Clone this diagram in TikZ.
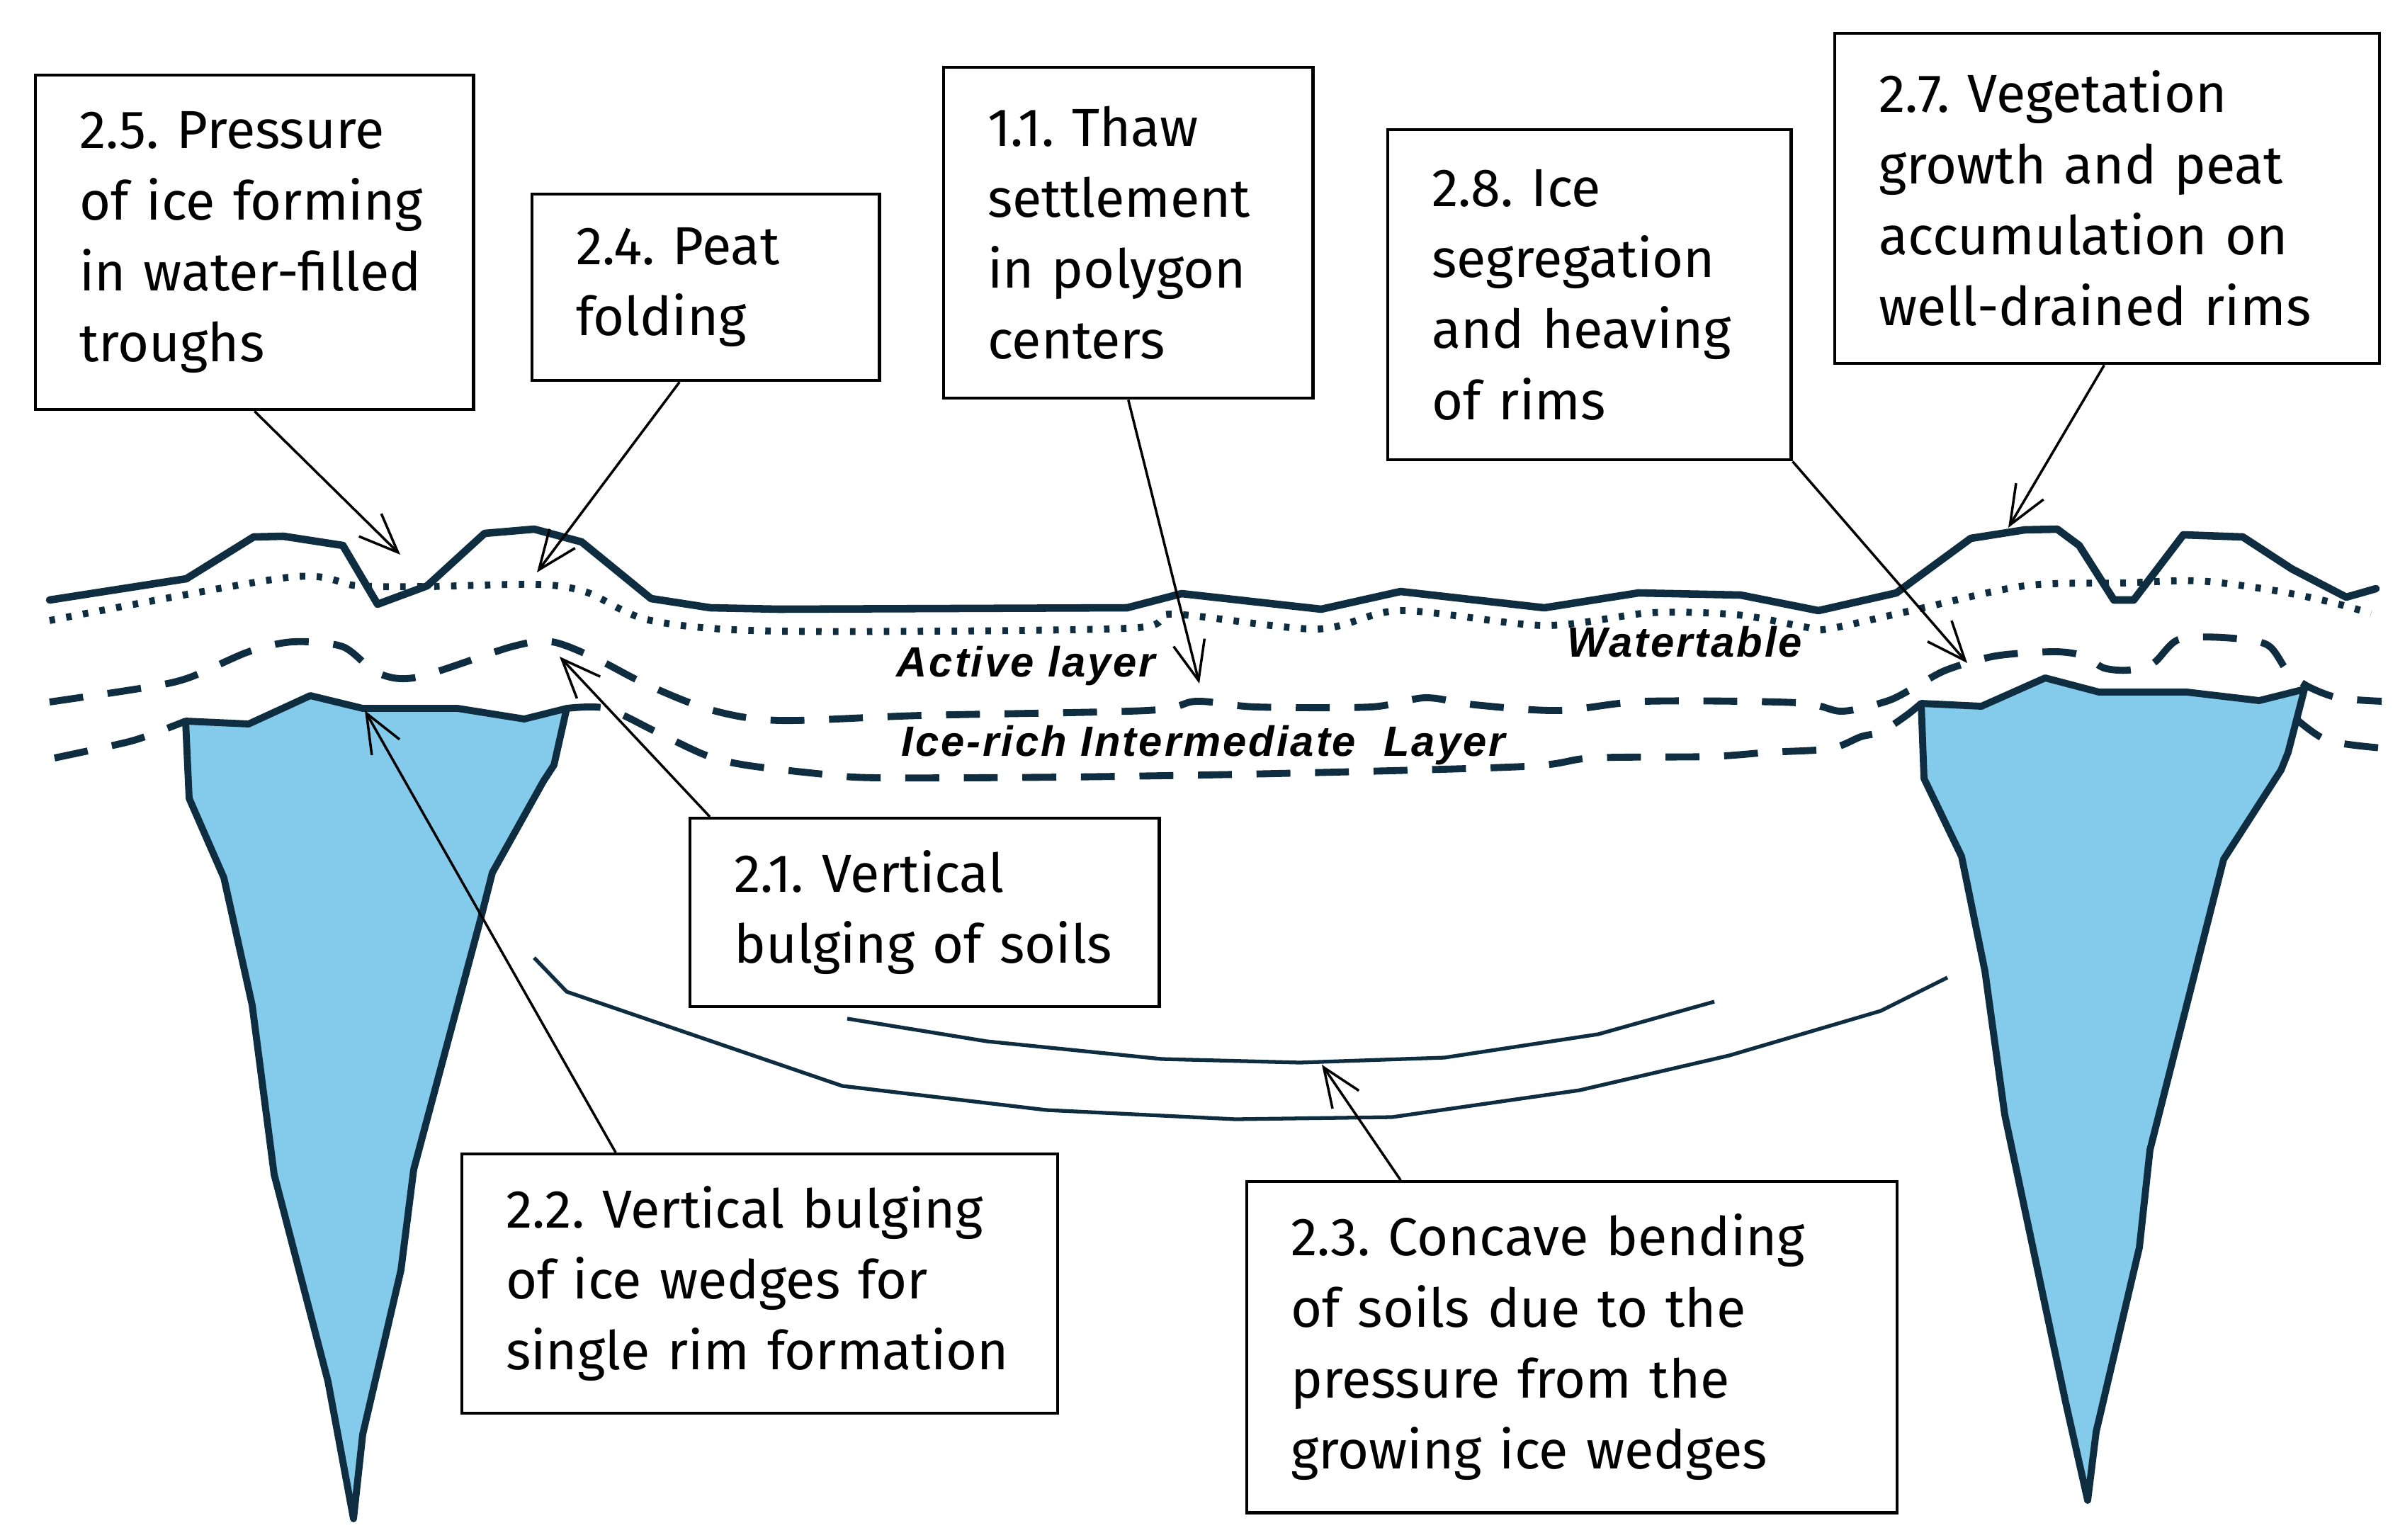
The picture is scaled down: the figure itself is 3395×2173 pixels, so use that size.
\documentclass[tikz,border=0pt]{standalone}
\usepackage{fontspec}
\setmainfont{Fira Sans}
\newfontfamily\lblfont[LetterSpace=5]{Liberation Sans}
\usetikzlibrary{arrows.meta}
\definecolor{navy}{RGB}{14,45,64}
\definecolor{iceblue}{RGB}{131,202,235}
\frenchspacing
\newcommand\bl[1]{\mbox{#1}}
\begin{document}
\begin{tikzpicture}[x=0.01cm,y=-0.01cm,
  box/.style={draw=black, line width=1.2pt, fill=white, inner xsep=0.62cm, inner ysep=0pt,
    align=left, anchor=north west, font=\fontsize{21.5pt}{28.5pt}\selectfont},
  arr/.style={draw=black, line width=1pt, -{Straight Barb[length=0.55cm,width=0.45cm]}},
  surface/.style={draw=navy, line width=3pt, line join=round, line cap=round},
  watertable/.style={draw=navy, line width=2.8pt, dash pattern=on 2.2pt off 4.6pt},
  layerline/.style={draw=navy, line width=2.8pt, dash pattern=on 13.6pt off 9.9pt},
  wedge/.style={draw=navy, fill=iceblue, line width=2.8pt, line join=round},
  bendline/.style={draw=navy, line width=1.5pt, line join=round},
  lbl/.style={anchor=base west, inner sep=0pt, font=\lblfont\bfseries\itshape\fontsize{17pt}{20pt}\selectfont}]
\useasboundingbox (0,0) rectangle (3395,2173);
\fill[white] (0,0) rectangle (3395,2173);

% ground surface
\draw[surface] (70,847) -- (263,817) -- (358,758) -- (400,757) -- (484,770) -- (533,853) -- (603,827)
  -- (684,753) -- (754,747) -- (821,765) -- (919,845) -- (1003,858) -- (1100,860) -- (1591,858)
  -- (1668,838) -- (1865,860) -- (1977,835) -- (2180,858) -- (2313,837) -- (2457,840) -- (2567,862)
  -- (2677,837) -- (2782,760) -- (2858,748) -- (2904,747) -- (2935,770) -- (2984,847) -- (3012,847)
  -- (3082,755) -- (3166,758) -- (3235,803) -- (3312,843) -- (3354,831);

% water table
\draw[watertable] plot[smooth, tension=0.5] coordinates {(70,876) (407,815) (505,827) (603,828) (758,825)
  (828,836) (919,876) (1100,891) (1591,887) (1654,867) (1858,888) (1977,862) (2180,883) (2330,865)
  (2453,868) (2547,885) (2580,888) (2698,862) (2858,827) (2998,823) (3103,820) (3207,833) (3290,850) (3347,866)};

% base of active layer
\draw[layerline] plot[smooth, tension=0.5] coordinates {(70,991) (203,971) (266,957) (351,920) (414,906)
  (484,913) (533,950) (589,956) (722,913) (779,906) (842,930) (912,966) (1003,1002) (1100,1017)
  (1300,1010) (1619,1003) (1689,990) (1773,998) (1935,998) (2012,985) (2082,995) (2200,1003)
  (2323,990) (2537,992) (2600,1004) (2663,990) (2698,973) (2747,946) (2817,926) (2900,920)
  (2942,926) (2970,943) (3005,946) (3040,936) (3075,903) (3138,900) (3200,910) (3228,946) (3256,968)
  (3300,985) (3362,990)};

% base of ice-rich intermediate layer
\draw[layerline] plot[smooth, tension=0.5] coordinates {(77,1070) (182,1047) (231,1030) (262,1018)};
\draw[layerline] plot[smooth, tension=0.5] coordinates {(800,1000) (856,1000) (926,1033) (996,1066)
  (1052,1080) (1163,1093) (1240,1098) (1500,1097) (1801,1092) (2152,1082) (2247,1070) (2413,1068)
  (2497,1062) (2583,1057) (2627,1040) (2656,1033) (2691,1010) (2712,993)};
\draw[layerline] plot[smooth, tension=0.5] coordinates {(3238,1012) (3285,1045) (3362,1056)};

% ice wedges
\draw[wedge] (262,1018) -- (351,1022) -- (438,982) -- (512,1000) -- (646,1000) -- (740,1015) -- (800,1000)
  -- (782,1080) -- (767,1103) -- (695,1232) -- (678,1299) -- (584,1651) -- (566,1793) -- (512,2025)
  -- (499,2144) -- (463,1950) -- (387,1658) -- (356,1419) -- (316,1239) -- (267,1127) -- cycle;
\draw[wedge] (2712,993) -- (2797,997) -- (2887,957) -- (2963,977) -- (3087,977) -- (3189,989) -- (3253,973)
  -- (3230,1062) -- (3220,1087) -- (3139,1213) -- (3035,1623) -- (3020,1761) -- (2959,2021)
  -- (2947,2118) -- (2916,1980) -- (2830,1574) -- (2802,1371) -- (2769,1209) -- (2716,1099) -- cycle;

% concave bending of soils
\draw[bendline] (754,1352) -- (800,1400) -- (1189,1533) -- (1477,1567) -- (1744,1580) -- (1965,1577)
  -- (2230,1539) -- (2441,1490) -- (2655,1427) -- (2749,1380);
\draw[bendline] (1196,1438) -- (1393,1470) -- (1640,1495) -- (1835,1500) -- (2039,1493) -- (2256,1460) -- (2420,1414);

% layer labels
\node[lbl] (lact) at (1265,955) {Active layer};
\node[lbl] (lice) at (1272,1067) {Ice-rich Intermediate\ \ Layer};
\node[lbl] (lwat) at (2212,927) {Watertable};

% boxes
\node[box, minimum width=6.18cm, minimum height=4.72cm, text width=4.94cm] (b25) at (48,104)
  {\bl{2.5. Pressure}\\\bl{of ice forming}\\\bl{in water-filled}\\\bl{troughs}};
\node[box, minimum width=4.90cm, minimum height=2.63cm, text width=3.66cm] (b24) at (749,272)
  {\bl{2.4. Peat}\\\bl{folding}};
\node[box, minimum width=5.21cm, minimum height=4.67cm, text width=3.97cm] (b11) at (1330,93)
  {\bl{1.1. Thaw}\\\bl{settlement}\\\bl{in polygon}\\\bl{centers}};
\node[box, minimum width=5.69cm, minimum height=4.66cm, text width=4.45cm] (b28) at (1957,181)
  {\bl{2.8. Ice}\\\bl{segregation}\\\bl{and heaving}\\\bl{of rims}};
\node[box, minimum width=7.68cm, minimum height=4.66cm, text width=6.44cm] (b27) at (2588,45)
  {\bl{2.7. Vegetation}\\\bl{growth and peat}\\\bl{accumulation on}\\\bl{well-drained rims}};
\node[box, minimum width=6.62cm, minimum height=2.66cm, text width=5.38cm] (b21) at (972,1153)
  {\bl{2.1. Vertical}\\\bl{bulging of soils}};
\node[box, minimum width=8.40cm, minimum height=3.66cm, text width=7.16cm] (b22) at (650,1627)
  {\bl{2.2. Vertical bulging}\\\bl{of ice wedges for}\\\bl{single rim formation}};
\node[box, minimum width=9.17cm, minimum height=4.67cm, text width=7.93cm] (b23) at (1758,1666)
  {\bl{2.3. Concave bending}\\\bl{of soils due to the}\\\bl{pressure from the}\\\bl{growing ice wedges}};

% arrow tips
\coordinate (t25) at (565,783);
\coordinate (t24) at (758,808);
\coordinate (t11) at (1693,965);
\coordinate (t28) at (2777,936);
\coordinate (t27) at (2835,745);
\coordinate (t21) at (790,927);
\coordinate (t22) at (515,1003);
\coordinate (t23) at (1866,1503);

% arrows
\draw[arr] (b25.south) -- (t25);
\draw[arr] ([xshift=-0.37cm]b24.south) -- (t24);
\draw[arr] (b11.south) -- (t11);
\draw[arr] (b28.south east) -- (t28);
\draw[arr] ([xshift=-0.04cm]b27.south) -- (t27);
\draw[arr] ([xshift=0.30cm]b21.north west) -- (t21);
\draw[arr] ([xshift=2.19cm]b22.north west) -- (t22);
\draw[arr] ([xshift=2.19cm]b23.north west) -- (t23);
\end{tikzpicture}
\end{document}
